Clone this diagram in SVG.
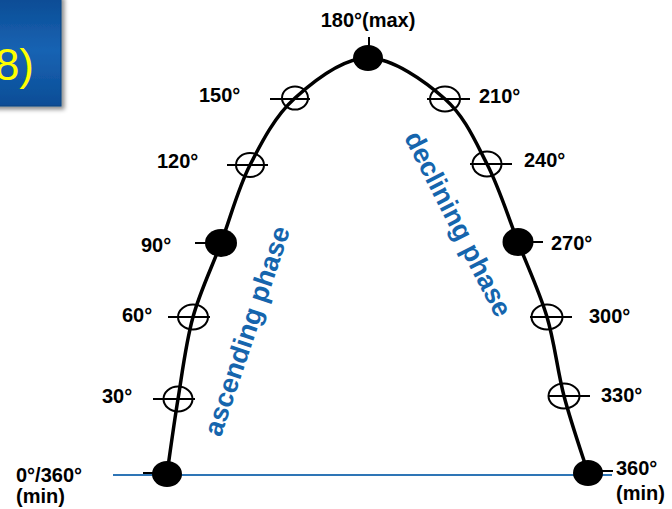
<svg xmlns="http://www.w3.org/2000/svg" width="672" height="509" viewBox="0 0 672 509">
<defs>
<linearGradient id="boxg" x1="0" y1="0" x2="0" y2="1">
<stop offset="0" stop-color="#0b4b93"/>
<stop offset="0.5" stop-color="#1763b3"/>
<stop offset="1" stop-color="#0c4d96"/>
</linearGradient>
<filter id="sh" x="-20%" y="-20%" width="150%" height="150%">
<feGaussianBlur in="SourceAlpha" stdDeviation="2"/>
<feOffset dx="3" dy="3" result="b"/>
<feFlood flood-color="#000" flood-opacity="0.45"/>
<feComposite in2="b" operator="in"/>
<feMerge><feMergeNode/><feMergeNode in="SourceGraphic"/></feMerge>
</filter>
</defs>
<style>
.lbl{font-family:"Liberation Sans",Arial,sans-serif;font-weight:bold;font-size:20px;fill:#000}
.phase{font-family:"Liberation Sans",Arial,sans-serif;font-weight:bold;font-size:27px;fill:#1565ad}
.open{fill:none;stroke:#000;stroke-width:2}
.tick{stroke:#000;stroke-width:2;fill:none}
.full{fill:#000}
.curve{fill:none;stroke:#000;stroke-width:3.5}
.axis{stroke:#2e75b6;stroke-width:2}
</style>
<rect width="672" height="509" fill="#fff"/>
<g id="title-box">
<rect x="-10" y="-5" width="71" height="111" fill="url(#boxg)" stroke="#0a427f" stroke-width="1" filter="url(#sh)"/>
<text x="34" y="80" font-family="Liberation Sans,Arial,sans-serif" font-size="44" fill="#ffff00" text-anchor="end">8)</text>
</g>
<g id="connectors">
<line class="axis" x1="113" y1="475" x2="612" y2="475"/>
<path class="curve" d="M167,474 C168.8,461.5 173.7,425.2 178,399 C182.3,372.8 185.8,343 193,317 C200.2,291 211.5,268.3 221,243 C230.5,217.7 237.7,189.2 250,165 C262.3,140.8 275.3,115.8 295,98 C314.7,80.2 343,57.8 368,58 C393,58.2 425.2,81.3 445,99 C464.8,116.7 474.8,140.2 487,164 C499.2,187.8 508,216.5 518,242 C528,267.5 539.3,291.3 547,317 C554.7,342.7 557.2,370 564,396 C570.8,422 584,460.2 588,473"/>
</g>
<g id="p180">
<line class="tick" x1="369" y1="37" x2="369" y2="48"/>
<ellipse class="full" cx="368" cy="58" rx="15" ry="13"/>
<text class="lbl" x="368" y="27" text-anchor="middle">180°(max)</text>
</g>
<g id="p150">
<line class="tick" x1="270" y1="99" x2="310" y2="99"/>
<ellipse class="open" cx="295" cy="98" rx="13" ry="11.5"/>
<text class="lbl" x="199" y="102">150°</text>
</g>
<g id="p120">
<line class="tick" x1="227" y1="165" x2="268" y2="165"/>
<ellipse class="open" cx="250" cy="165" rx="14" ry="12"/>
<text class="lbl" x="157" y="168">120°</text>
</g>
<g id="p90">
<line class="tick" x1="195" y1="243" x2="210" y2="243"/>
<ellipse class="full" cx="221" cy="243" rx="16" ry="14"/>
<text class="lbl" x="141" y="252">90°</text>
</g>
<g id="p60">
<line class="tick" x1="168" y1="317" x2="210" y2="317"/>
<ellipse class="open" cx="193" cy="317" rx="15" ry="12.5"/>
<text class="lbl" x="122" y="322">60°</text>
</g>
<g id="p30">
<line class="tick" x1="153" y1="399" x2="195" y2="399"/>
<ellipse class="open" cx="178" cy="399" rx="14.5" ry="12.5"/>
<text class="lbl" x="102" y="403">30°</text>
</g>
<g id="p0">
<line class="tick" x1="143" y1="473" x2="155" y2="473"/>
<ellipse class="full" cx="167" cy="474" rx="15" ry="13"/>
<text class="lbl" x="16" y="482">0°/360°</text>
<text class="lbl" x="16" y="503">(min)</text>
</g>
<g id="p210">
<line class="tick" x1="427" y1="99" x2="470" y2="99"/>
<ellipse class="open" cx="445" cy="99" rx="15" ry="12.5"/>
<text class="lbl" x="479" y="103">210°</text>
</g>
<g id="p240">
<line class="tick" x1="470" y1="164" x2="512" y2="164"/>
<ellipse class="open" cx="487" cy="164" rx="14.5" ry="12.5"/>
<text class="lbl" x="524" y="167">240°</text>
</g>
<g id="p270">
<line class="tick" x1="530" y1="242" x2="543" y2="242"/>
<ellipse class="full" cx="518" cy="242" rx="15.5" ry="14"/>
<text class="lbl" x="551" y="250">270°</text>
</g>
<g id="p300">
<line class="tick" x1="530" y1="317" x2="572" y2="317"/>
<ellipse class="open" cx="547" cy="317" rx="15.5" ry="12.5"/>
<text class="lbl" x="589" y="323">300°</text>
</g>
<g id="p330">
<line class="tick" x1="548" y1="396" x2="590" y2="396"/>
<ellipse class="open" cx="564" cy="396" rx="15.5" ry="12.5"/>
<text class="lbl" x="601" y="402">330°</text>
</g>
<g id="p360">
<line class="tick" x1="598" y1="471" x2="613" y2="471"/>
<ellipse class="full" cx="588" cy="473" rx="15" ry="13"/>
<text class="lbl" x="616" y="475">360°</text>
<text class="lbl" x="616" y="500">(min)</text>
</g>
<g id="phases">
<text class="phase" transform="translate(247,331) rotate(-71.5)" x="0" y="9" text-anchor="middle">ascending phase</text>
<text class="phase" transform="translate(458,224) rotate(63)" x="0" y="9" text-anchor="middle">declining phase</text>
</g>
</svg>
